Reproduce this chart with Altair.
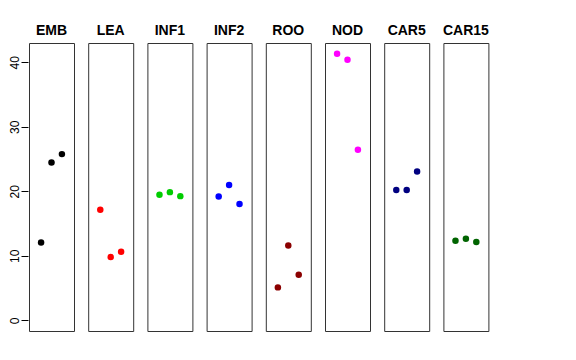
import altair as alt
import pandas as pd

panels = ["EMB", "LEA", "INF1", "INF2", "ROO", "NOD", "CAR5", "CAR15"]
colors = ["#000000", "#FF0000", "#00CD00", "#0000FF", "#8B0000", "#FF00FF", "#000080", "#006400"]
positions = [1, 2, 3]
values = {
    "EMB": [12.07, 24.46, 25.76],
    "LEA": [17.14, 9.81, 10.63],
    "INF1": [19.46, 19.87, 19.25],
    "INF2": [19.20, 20.96, 18.02],
    "ROO": [5.11, 11.61, 7.07],
    "NOD": [41.33, 40.40, 26.42],
    "CAR5": [20.19, 20.19, 23.07],
    "CAR15": [12.34, 12.65, 12.14],
}
y_ticks = [0, 10, 20, 30, 40]

rows = []
for p in panels:
    for x, v in zip(positions, values[p]):
        rows.append({"panel": p, "x": x, "value": v})
df = pd.DataFrame(rows)

base = alt.Chart(df).mark_circle(size=42, opacity=1).encode(
    x=alt.X("x:Q", scale=alt.Scale(domain=[-0.16, 4.16], nice=False, zero=False), axis=None),
    y=alt.Y("value:Q", scale=alt.Scale(domain=[-1.65, 42.98], nice=False, zero=False),
            axis=alt.Axis(values=y_ticks, title=None, grid=False, domain=False,
                          tickSize=7, tickColor="#000", labelAngle=270, labelAlign="center",
                          labelBaseline="bottom", labelPadding=0, labelFontSize=12,
                          labelFont="Liberation Sans", labelColor="#000")),
    color=alt.Color("panel:N", scale=alt.Scale(domain=panels, range=colors), legend=None),
).properties(width=45, height=288)

chart = base.facet(
    column=alt.Column("panel:N", sort=panels,
                      header=alt.Header(title=None, labelFontWeight="bold", labelFontSize=14,
                                        labelFont="Liberation Sans", labelColor="#000",
                                        labelPadding=4, labelOrient="top")),
    spacing=12.2,
).configure(
    padding={"left": 0, "top": 16, "right": 5, "bottom": 5},
    style={"cell": {"stroke": "#333", "strokeWidth": 1}},
).configure_view(stroke="#333", strokeWidth=1)

chart.save("out.html", embed_options={"renderer": "svg", "actions": False})
